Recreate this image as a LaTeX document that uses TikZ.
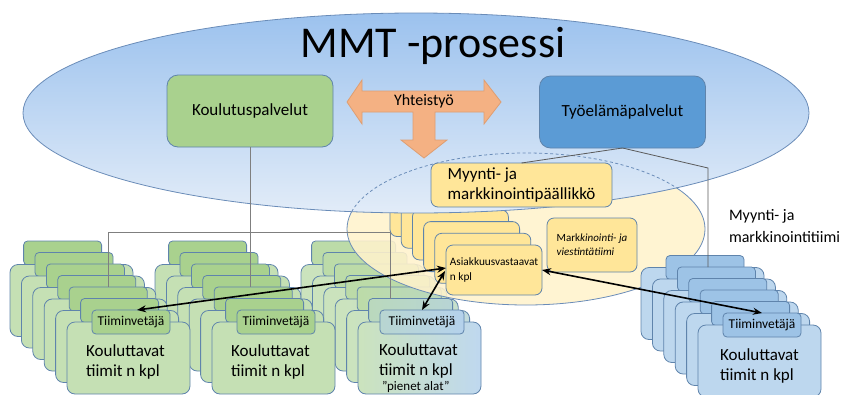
\documentclass[tikz,border=0pt]{standalone}
\usepackage{fontspec}
\setmainfont{Carlito}
\usetikzlibrary{arrows.meta,calc}

\definecolor{edgeblue}{HTML}{5F84AC}
\definecolor{ellipseedge}{HTML}{6A8CB8}
\definecolor{skytop}{HTML}{9CC2EE}
\definecolor{skybottom}{HTML}{E2ECF8}
\definecolor{paleyellow}{HTML}{FFF2CC}
\definecolor{gold}{HTML}{FFE699}
\definecolor{coral}{HTML}{F4B183}
\definecolor{coraledge}{HTML}{DE9E72}
\definecolor{lgreen}{HTML}{C5E0B4}
\definecolor{tgreen}{HTML}{A9D18E}
\definecolor{lblue}{HTML}{BDD7EE}
\definecolor{tblue}{HTML}{9DC3E6}
\definecolor{midblue}{HTML}{5B9BD5}
\definecolor{mlgreen}{HTML}{CBE3BD}
\definecolor{mtgreen}{HTML}{BCDBA8}
\definecolor{mlblue}{HTML}{BFD8EF}
\definecolor{mtblue}{HTML}{B5D2EC}
\definecolor{wire}{HTML}{7F7F7F}
\definecolor{darkwire}{HTML}{5A5A5A}

% A deck of team cards: #1 name prefix, #2/#3 top-left of the front card,
% #4 index of the rearmost tab, #5 number of big cards, #6 colour variant
\newcommand\teamcards[6]{%
  \foreach \k in {#4,...,0}{%
    \pgfmathsetmacro\cx{#2-11.4*\k}%
    \pgfmathsetmacro\cy{#3-11.5*\k}%
    \pgfmathtruncatemacro\mixb{max(0,100-34*\k)}%
    \pgfmathtruncatemacro\mixa{max(0,60-30*\k)}%
    \ifnum\k<#5\relax
      \node[big#6] (#1big\k) at (\cx+61.5,\cy+36) {};
    \fi
    \node[tab#6] (#1tab\k) at (\cx+64,\cy) {};
  }%
}

\begin{document}
\begin{tikzpicture}[x=1pt,y=-1pt,
  every node/.style={inner sep=0pt, outer sep=0pt},
  boxline/.style={draw=edgeblue, line width=0.8pt},
  bigbase/.style={boxline, rounded corners=8pt, minimum width=123pt, minimum height=72pt},
  tabbase/.style={boxline, rounded corners=4pt, minimum width=78pt, minimum height=24pt},
  bigg/.style={bigbase, fill=lgreen},
  tabg/.style={tabbase, fill=tgreen},
  bigb/.style={bigbase, fill=lblue},
  tabb/.style={tabbase, fill=tblue},
  bigm/.style={bigbase, left color=mlgreen, right color=mlblue!\mixb!mlgreen},
  tabm/.style={tabbase, minimum width=84pt, left color=mtblue!\mixa!mtgreen, right color=mtblue!\mixb!mtgreen},
  topbox/.style={boxline, rounded corners=11pt, minimum width=166pt, minimum height=72pt,
    font=\fontsize{17}{20}\selectfont},
  asbox/.style={boxline, fill=gold, rounded corners=7pt, minimum width=96pt, minimum height=50pt},
  tabtext/.style={font=\fontsize{13.5}{15}\selectfont},
  bigtext/.style={align=left, font=\fontsize{17}{20}\selectfont},
  conn/.style={draw=wire, line width=0.9pt},
  tyoconn/.style={draw=darkwire, line width=0.8pt},
  link/.style={draw=black, line width=1.6pt, {Stealth[length=9pt,width=7pt]}-{Stealth[length=9pt,width=7pt]}},
]
\useasboundingbox (0,0) rectangle (848,394);

% teams for the small sectors, partly under the sales ellipse
\teamcards{s3}{358}{322}{6}{6}{m}

% sales and marketing ellipse
\path[fill=paleyellow, fill opacity=0.88, draw=ellipseedge, line width=0.8pt]
  (526,229) ellipse [x radius=179pt, y radius=76pt];

% account managers
\foreach \k in {5,...,1}{%
  \node[asbox] at (494-11.2*\k,270-11.7*\k) {};
}
\node[asbox, align=left, font=\fontsize{11.3}{15.5}\selectfont] (asiak) at (494,270)
  {Asiakkuusvastaavat\\n kpl};
\node[boxline, fill=gold, rounded corners=7pt, minimum width=90pt, minimum height=54pt,
  align=left, font=\fontsize{11}{14}\selectfont] (markk) at (592,245)
  {Mark\textit{kinointi- ja}\\\textit{viestintätiimi}};

% process ellipse
\path[draw=ellipseedge, line width=0.8pt, top color=skytop, bottom color=skybottom]
  (416,113) ellipse [x radius=393pt, y radius=100pt];
\begin{scope}
  \clip (416,113) ellipse [x radius=393pt, y radius=100pt];
  \draw[draw=ellipseedge, line width=0.8pt, dash pattern=on 3pt off 2.5pt]
    (526,229) ellipse [x radius=179pt, y radius=76pt];
\end{scope}

\node[font=\fontsize{44}{48}\selectfont, anchor=base] (title) at (433,57) {MMT -prosessi};

\node[topbox, fill=tgreen] (koul) at (250,111) {Koulutuspalvelut};
\node[topbox, fill=midblue] (tyo) at (622.5,112) {Työelämäpalvelut};

% cooperation arrow
\draw[fill=coral, draw=coraledge, line width=0.8pt]
  (347,102) -- (362,80) -- (362,91) -- (484,91) -- (484,80) -- (501,102)
  -- (484,124) -- (484,112) -- (435,112) -- (435,140) -- (447,140) -- (424,158)
  -- (401,140) -- (413,140) -- (413,112) -- (362,112) -- (362,124) -- cycle;
\node[font=\fontsize{16}{18}\selectfont] (yht) at (424,101) {Yhteistyö};

\node[boxline, fill=gold, rounded corners=7pt, minimum width=181pt, minimum height=44pt,
  align=left, font=\fontsize{17}{20}\selectfont] (myynti) at (521.5,185)
  {Myynti- ja\\markkinointipäällikkö};

% training teams
\teamcards{s2}{212}{322}{6}{6}{g}
\teamcards{s1}{67}{322}{6}{6}{g}
\teamcards{s4}{698}{325}{5}{6}{b}

% organisation lines
\coordinate (j3) at (390,232);
\coordinate (j4) at (708,168);
\draw[conn] (koul.south) -- (koul.south |- s2tab2.north);
\draw[conn] (s1tab2.north) |- (j3) -- (j3 |- s3tab1.north);
\draw[tyoconn] (tyo.south) -- (myynti.north);
\draw[tyoconn] (tyo.south) -- (j4) -- (j4 |- s4tab4.north);

% contacts between account managers and team leaders
\draw[link] ($(asiak.west)+(0,-2)$) -- ($(s1tab0.north)+(6,0)$);
\draw[link] ($(asiak.west)+(-1,1)$) -- (s3tab0.north);
\draw[link] (asiak.east) -- (s4tab0.north);

% labels
\foreach \s in {s1,s2,s3,s4}{%
  \node[tabtext] at (\s tab0) {Tiiminvetäjä};
}
\node[bigtext] at ($(s1big0.center)+(-3,4)$) {Kouluttavat\\tiimit n kpl};
\node[bigtext] at ($(s2big0.center)+(-3,4)$) {Kouluttavat\\tiimit n kpl};
\node[bigtext] at ($(s3big0.center)+(-1,3)$) {Kouluttavat\\tiimit n kpl};
\node[anchor=west, font=\fontsize{13}{14}\selectfont] (pienet) at (382,387) {”pienet alat”};
\node[bigtext] at ($(s4big0.center)+(0,5)$) {Kouluttavat\\tiimit n kpl};

\node[anchor=west, align=left, font=\fontsize{16}{22}\selectfont] (mtiimi) at (729,226)
  {Myynti- ja\\markkinointitiimi};
\end{tikzpicture}
\end{document}
